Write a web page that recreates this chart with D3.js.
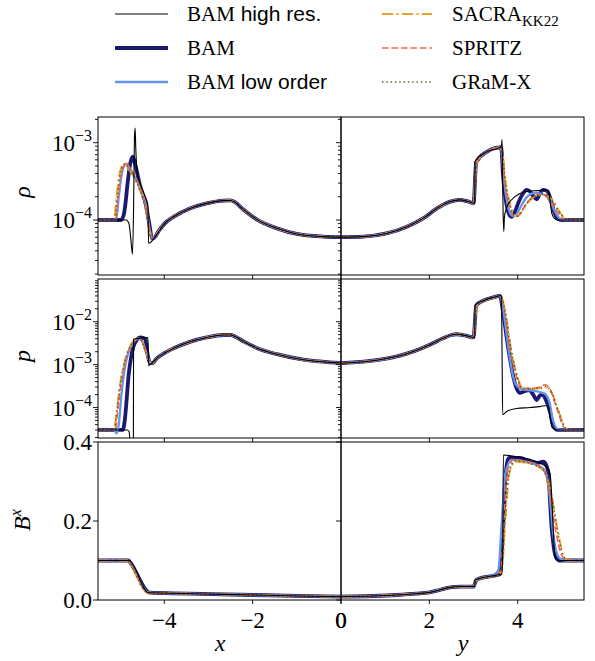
<!DOCTYPE html>
<html>
<head>
<meta charset="utf-8">
<script src="https://cdn.jsdelivr.net/npm/d3@7"></script>
<style>
  body { margin: 0; background: #fff; }
  svg text { font-family: "Liberation Serif", serif; fill: #000; }
</style>
</head>
<body>
<div id="chart"></div>
<script>
// ---- data: [coordinate, value] ----

// rho, left half (x)
var rhoL_tail = [[-4.25,5.8e-5],[-4.10,7.6e-5],[-3.95,9.5e-5],[-3.79,1.10e-4],[-3.42,1.41e-4],[-3.04,1.64e-4],[-2.66,1.78e-4],[-2.50,1.79e-4],[-2.40,1.70e-4],[-2.21,1.37e-4],[-1.91,1.02e-4],[-1.45,7.8e-5],[-1.00,6.6e-5],[-0.40,6.1e-5],[0,6.0e-5]];
var rhoL_hires = [[-5.5,1.0e-4],[-4.86,1.0e-4],[-4.80,9.0e-5],[-4.755,5.5e-5],[-4.72,3.6e-5],[-4.695,1.4e-4],[-4.675,1.2e-3],[-4.66,1.55e-3],[-4.645,8.5e-4],[-4.615,4.2e-4],[-4.55,3.0e-4],[-4.43,2.0e-4],[-4.37,1.55e-4],[-4.355,5.0e-5],[-4.30,5.2e-5],[-4.25,5.6e-5],[-4.02,8.6e-5]];
var rhoL_bam = [[-5.5,1.0e-4],[-4.98,1.0e-4],[-4.92,1.15e-4],[-4.88,1.6e-4],[-4.83,3.0e-4],[-4.77,5.4e-4],[-4.71,6.6e-4],[-4.66,5.3e-4],[-4.55,2.8e-4],[-4.42,1.6e-4],[-4.34,9.0e-5],[-4.28,5.9e-5]];
var rhoL_low = [[-5.5,1.0e-4],[-5.09,1.0e-4],[-5.03,2.0e-4],[-4.96,4.0e-4],[-4.87,5.3e-4],[-4.80,4.8e-4],[-4.70,3.9e-4],[-4.55,2.6e-4],[-4.41,1.5e-4],[-4.33,7.5e-5],[-4.28,5.9e-5]];
var rhoL_sacra = [[-5.5,1.0e-4],[-5.14,1.0e-4],[-5.08,2.1e-4],[-5.00,4.3e-4],[-4.91,5.3e-4],[-4.82,4.6e-4],[-4.70,3.7e-4],[-4.56,2.5e-4],[-4.42,1.45e-4],[-4.33,7.0e-5],[-4.27,5.9e-5]];
var rhoL_spritz = [[-5.5,1.0e-4],[-5.10,1.0e-4],[-5.04,2.0e-4],[-4.97,4.1e-4],[-4.86,5.4e-4],[-4.78,4.7e-4],[-4.70,3.9e-4],[-4.55,2.6e-4],[-4.41,1.45e-4],[-4.33,7.2e-5],[-4.27,5.9e-5]];
var rhoL_gramx = [[-5.5,1.0e-4],[-5.12,1.0e-4],[-5.06,2.1e-4],[-4.99,4.2e-4],[-4.89,5.3e-4],[-4.81,4.7e-4],[-4.70,3.8e-4],[-4.56,2.5e-4],[-4.42,1.45e-4],[-4.33,7.0e-5],[-4.27,5.9e-5]];

// rho, right half (y)
var rhoR_rise = [[0,6.0e-5],[0.50,6.1e-5],[1.03,6.7e-5],[1.49,8.2e-5],[1.86,1.05e-4],[2.17,1.41e-4],[2.47,1.73e-4],[2.69,1.82e-4],[2.85,1.75e-4],[3.00,1.65e-4]];
var rhoR_hires = [[3.025,1.66e-4],[3.035,5.7e-4],[3.30,7.6e-4],[3.60,8.7e-4],[3.635,9.5e-4],[3.645,1.1e-3],[3.655,4.0e-4],[3.67,1.2e-4],[3.685,7.1e-5],[3.70,1.1e-4],[3.75,1.45e-4],[3.85,1.8e-4],[4.05,2.2e-4],[4.28,2.37e-4],[4.45,2.4e-4],[4.60,2.45e-4],[4.69,2.4e-4],[4.735,1.7e-4],[4.77,1.23e-4],[4.83,1.05e-4],[4.90,1.0e-4],[5.5,1.0e-4]];
var rhoR_bam = [[3.00,1.65e-4],[3.06,5.6e-4],[3.30,7.6e-4],[3.60,8.7e-4],[3.63,8.2e-4],[3.67,3.6e-4],[3.73,1.8e-4],[3.79,1.25e-4],[3.86,1.1e-4],[3.93,1.25e-4],[4.01,1.65e-4],[4.12,2.2e-4],[4.20,2.45e-4],[4.29,2.3e-4],[4.36,2.0e-4],[4.43,1.85e-4],[4.50,2.2e-4],[4.58,2.45e-4],[4.67,2.35e-4],[4.74,1.9e-4],[4.81,1.35e-4],[4.90,1.05e-4],[5.0,1.0e-4],[5.5,1.0e-4]];
var rhoR_low = [[3.00,1.65e-4],[3.06,5.6e-4],[3.30,7.6e-4],[3.60,8.7e-4],[3.63,8.0e-4],[3.69,3.2e-4],[3.77,1.6e-4],[3.86,1.15e-4],[3.93,1.13e-4],[4.03,1.35e-4],[4.15,1.8e-4],[4.28,2.15e-4],[4.40,2.25e-4],[4.52,2.2e-4],[4.64,2.05e-4],[4.75,1.65e-4],[4.87,1.2e-4],[4.98,1.02e-4],[5.08,1.0e-4],[5.5,1.0e-4]];
var rhoR_sacra = [[3.00,1.64e-4],[3.07,5.5e-4],[3.30,7.5e-4],[3.60,8.6e-4],[3.64,8.0e-4],[3.73,3.1e-4],[3.83,1.6e-4],[3.93,1.15e-4],[4.00,1.12e-4],[4.10,1.3e-4],[4.22,1.65e-4],[4.35,1.95e-4],[4.47,2.1e-4],[4.59,2.15e-4],[4.71,2.0e-4],[4.83,1.65e-4],[4.96,1.25e-4],[5.07,1.05e-4],[5.17,1.0e-4],[5.5,1.0e-4]];
var rhoR_spritz = [[3.00,1.65e-4],[3.06,5.6e-4],[3.30,7.6e-4],[3.60,8.7e-4],[3.63,8.1e-4],[3.71,3.0e-4],[3.80,1.6e-4],[3.90,1.15e-4],[3.97,1.1e-4],[4.08,1.3e-4],[4.20,1.65e-4],[4.32,1.95e-4],[4.43,2.1e-4],[4.55,2.15e-4],[4.66,2.0e-4],[4.78,1.65e-4],[4.91,1.25e-4],[5.02,1.05e-4],[5.12,1.0e-4],[5.5,1.0e-4]];
var rhoR_gramx = [[3.00,1.64e-4],[3.07,5.5e-4],[3.30,7.5e-4],[3.60,8.6e-4],[3.64,8.0e-4],[3.72,3.1e-4],[3.82,1.6e-4],[3.92,1.15e-4],[3.99,1.12e-4],[4.09,1.3e-4],[4.21,1.65e-4],[4.34,1.95e-4],[4.46,2.1e-4],[4.58,2.15e-4],[4.70,2.0e-4],[4.82,1.65e-4],[4.95,1.25e-4],[5.06,1.05e-4],[5.16,1.0e-4],[5.5,1.0e-4]];

// p, left half
var pL_tail = [[-4.28,1.07e-3],[-4.17,1.4e-3],[-4.00,1.85e-3],[-3.79,2.4e-3],[-3.42,3.4e-3],[-3.04,4.3e-3],[-2.66,4.9e-3],[-2.50,4.9e-3],[-2.40,4.5e-3],[-2.21,3.5e-3],[-1.91,2.45e-3],[-1.45,1.75e-3],[-0.85,1.3e-3],[-0.25,1.13e-3],[0,1.1e-3]];
var pL_hires = [[-5.5,3.0e-5],[-4.84,3.0e-5],[-4.80,2.8e-5],[-4.775,1.5e-5],[-4.76,5e-6],[-4.70,5e-6],[-4.695,3.9e-3],[-4.55,4.1e-3],[-4.37,4.3e-3],[-4.355,9.5e-4],[-4.30,1.05e-3],[-4.20,1.3e-3]];
var pL_bam = [[-5.5,3.0e-5],[-4.94,3.0e-5],[-4.89,5.5e-5],[-4.85,1.6e-4],[-4.81,5.3e-4],[-4.76,1.3e-3],[-4.70,2.6e-3],[-4.62,3.8e-3],[-4.55,4.3e-3],[-4.48,4.2e-3],[-4.43,3.9e-3],[-4.38,1.8e-3],[-4.34,1.2e-3],[-4.29,1.07e-3]];
var pL_low = [[-5.5,3.0e-5],[-5.13,3.0e-5],[-5.08,2.5e-5],[-5.03,4.0e-5],[-4.97,2.0e-4],[-4.90,7.5e-4],[-4.82,1.8e-3],[-4.70,3.3e-3],[-4.58,4.1e-3],[-4.50,3.5e-3],[-4.43,2.2e-3],[-4.35,1.3e-3],[-4.29,1.08e-3]];
var pL_sacra = [[-5.5,3.0e-5],[-5.14,3.0e-5],[-5.08,8.0e-5],[-5.00,3.5e-4],[-4.90,1.2e-3],[-4.76,2.9e-3],[-4.62,3.9e-3],[-4.55,3.9e-3],[-4.47,2.8e-3],[-4.40,1.7e-3],[-4.33,1.15e-3],[-4.28,1.07e-3]];
var pL_spritz = [[-5.5,3.0e-5],[-5.11,3.0e-5],[-5.05,9.0e-5],[-4.97,4.0e-4],[-4.86,1.4e-3],[-4.72,3.2e-3],[-4.60,4.0e-3],[-4.53,3.9e-3],[-4.46,2.7e-3],[-4.40,1.7e-3],[-4.33,1.15e-3],[-4.28,1.07e-3]];
var pL_gramx = [[-5.5,3.0e-5],[-5.13,3.0e-5],[-5.07,8.5e-5],[-4.99,3.8e-4],[-4.88,1.3e-3],[-4.74,3.0e-3],[-4.61,3.9e-3],[-4.54,3.9e-3],[-4.47,2.8e-3],[-4.40,1.7e-3],[-4.33,1.15e-3],[-4.28,1.07e-3]];

// p, right half
var pR_rise = [[0,1.08e-3],[0.88,1.3e-3],[1.20,1.5e-3],[1.49,1.8e-3],[1.80,2.35e-3],[2.01,2.9e-3],[2.31,4.1e-3],[2.50,4.9e-3],[2.62,5.1e-3],[2.80,4.8e-3],[3.00,4.3e-3]];
var pR_hires = [[3.025,4.3e-3],[3.035,2.45e-2],[3.22,3.1e-2],[3.45,3.7e-2],[3.63,4.1e-2],[3.645,2.0e-3],[3.66,6.8e-5],[3.75,8.1e-5],[3.97,9.5e-5],[4.28,1.0e-4],[4.50,1.05e-4],[4.66,1.12e-4],[4.70,1.0e-4],[4.74,5.0e-5],[4.78,3.4e-5],[4.88,3.0e-5],[5.5,3.0e-5]];
var pR_bam = [[3.00,4.3e-3],[3.06,2.4e-2],[3.22,3.1e-2],[3.45,3.7e-2],[3.60,4.0e-2],[3.67,1.6e-2],[3.73,6.0e-3],[3.78,2.6e-3],[3.84,1.1e-3],[3.90,5.2e-4],[3.97,2.9e-4],[4.05,2.2e-4],[4.15,2.4e-4],[4.26,2.55e-4],[4.35,2.0e-4],[4.43,1.5e-4],[4.50,1.9e-4],[4.56,2.0e-4],[4.65,1.4e-4],[4.73,8.0e-5],[4.80,4.0e-5],[4.90,3.0e-5],[5.5,3.0e-5]];
var pR_low = [[3.00,4.3e-3],[3.06,2.4e-2],[3.22,3.1e-2],[3.45,3.7e-2],[3.60,4.0e-2],[3.69,1.4e-2],[3.80,2.0e-3],[3.90,5.0e-4],[3.97,3.3e-4],[4.10,2.65e-4],[4.30,2.5e-4],[4.50,2.3e-4],[4.64,2.0e-4],[4.72,1.3e-4],[4.80,5.0e-5],[4.92,3.1e-5],[5.5,3.0e-5]];
var pR_sacra = [[3.00,4.2e-3],[3.07,2.3e-2],[3.22,3.0e-2],[3.45,3.6e-2],[3.62,3.9e-2],[3.73,1.5e-2],[3.85,2.4e-3],[4.00,5.0e-4],[4.12,2.8e-4],[4.30,2.7e-4],[4.50,2.8e-4],[4.64,2.9e-4],[4.72,2.6e-4],[4.80,1.9e-4],[4.88,1.1e-4],[4.96,6.5e-5],[5.07,3.4e-5],[5.15,3.0e-5],[5.5,3.0e-5]];
var pR_spritz = [[3.00,4.3e-3],[3.06,2.4e-2],[3.22,3.1e-2],[3.45,3.7e-2],[3.61,4.0e-2],[3.71,1.6e-2],[3.82,2.6e-3],[3.97,5.2e-4],[4.09,2.8e-4],[4.30,2.8e-4],[4.50,3.0e-4],[4.62,3.4e-4],[4.70,3.0e-4],[4.77,2.2e-4],[4.85,1.2e-4],[4.92,7.5e-5],[5.03,3.6e-5],[5.11,3.0e-5],[5.5,3.0e-5]];
var pR_gramx = [[3.00,4.3e-3],[3.07,2.35e-2],[3.22,3.05e-2],[3.45,3.65e-2],[3.62,3.95e-2],[3.72,1.55e-2],[3.84,2.5e-3],[3.99,5.1e-4],[4.11,2.8e-4],[4.30,2.75e-4],[4.50,2.9e-4],[4.63,3.1e-4],[4.71,2.8e-4],[4.79,2.0e-4],[4.87,1.15e-4],[4.95,7.0e-5],[5.06,3.5e-5],[5.14,3.0e-5],[5.5,3.0e-5]];

// B^x, left half
var bxL_tail = [[-4.30,0.0185],[-3.80,0.0170],[-3.00,0.0150],[-1.98,0.0127],[-1.00,0.0103],[0,0.0084]];
var bxL_hires = [[-5.5,0.100],[-4.79,0.100],[-4.76,0.097],[-4.35,0.0185]];
var bxL_bam = [[-5.5,0.100],[-4.81,0.100],[-4.77,0.095],[-4.34,0.019]];
var bxL_low = [[-5.5,0.100],[-4.82,0.100],[-4.77,0.094],[-4.36,0.019]];
var bxL_sacra = [[-5.5,0.100],[-4.85,0.100],[-4.80,0.094],[-4.38,0.019]];
var bxL_spritz = [[-5.5,0.100],[-4.83,0.100],[-4.78,0.094],[-4.37,0.019]];
var bxL_gramx = [[-5.5,0.100],[-4.84,0.100],[-4.79,0.094],[-4.38,0.019]];

// B^x, right half
var bxR_rise = [[0,0.0084],[1.26,0.0127],[1.70,0.0160],[2.01,0.0194],[2.25,0.026],[2.47,0.032],[2.70,0.034],[3.00,0.034]];
var bxR_hires = [[3.025,0.034],[3.035,0.050],[3.10,0.053],[3.52,0.063],[3.64,0.066],[3.66,0.12],[3.675,0.367],[4.00,0.362],[4.28,0.356],[4.50,0.347],[4.69,0.333],[4.735,0.318],[4.85,0.106],[4.90,0.100],[5.5,0.100]];
var bxR_bam = [[3.00,0.034],[3.06,0.050],[3.10,0.053],[3.52,0.063],[3.60,0.066],[3.66,0.16],[3.72,0.31],[3.80,0.360],[4.05,0.360],[4.28,0.350],[4.43,0.347],[4.58,0.350],[4.68,0.330],[4.77,0.18],[4.86,0.11],[4.95,0.100],[5.5,0.100]];
var bxR_low = [[3.00,0.034],[3.06,0.050],[3.10,0.053],[3.45,0.063],[3.56,0.075],[3.64,0.20],[3.72,0.32],[3.86,0.355],[4.28,0.348],[4.58,0.332],[4.70,0.29],[4.80,0.17],[4.93,0.108],[5.05,0.100],[5.5,0.100]];
var bxR_sacra = [[3.00,0.034],[3.07,0.049],[3.12,0.053],[3.54,0.063],[3.64,0.072],[3.72,0.20],[3.81,0.32],[3.95,0.350],[4.28,0.345],[4.60,0.326],[4.76,0.27],[4.90,0.18],[5.03,0.115],[5.15,0.100],[5.5,0.100]];
var bxR_spritz = [[3.00,0.034],[3.06,0.050],[3.10,0.053],[3.52,0.063],[3.62,0.075],[3.69,0.21],[3.78,0.33],[3.90,0.355],[4.28,0.348],[4.58,0.330],[4.73,0.265],[4.86,0.175],[4.99,0.114],[5.11,0.100],[5.5,0.100]];
var bxR_gramx = [[3.00,0.034],[3.07,0.049],[3.12,0.053],[3.53,0.063],[3.63,0.073],[3.71,0.20],[3.80,0.32],[3.93,0.352],[4.28,0.346],[4.59,0.328],[4.75,0.27],[4.89,0.18],[5.02,0.115],[5.14,0.100],[5.5,0.100]];

// tick values
var xTicksLeft = [-4, -2, 0];
var xTicksRight = [0, 2, 4];
var rhoTicks = [1e-3, 1e-4];
var pTicks = [1e-2, 1e-3, 1e-4];
var bxTicks = [0, 0.2, 0.4];

// ---- helpers to glue a shared smooth part onto each series ----
function withTail(head, tail) {
    var last = head[head.length - 1][0];
    return head.concat(tail.filter(function(d) { return d[0] > last; }));
}
function withRise(rise, rest) {
    var first = rest[0][0];
    return rise.filter(function(d) { return d[0] < first; }).concat(rest);
}

// series styles, drawn in this order (high res on top)
var series = [
    { key: "bam",    color: "#191970", width: 3.8, dash: null },
    { key: "low",    color: "#6495ED", width: 2.3, dash: null },
    { key: "sacra",  color: "#E9A325", width: 1.8, dash: "11,3.5,2,3.5" },
    { key: "spritz", color: "#FF6347", width: 1.6, dash: "6.5,3" },
    { key: "gramx",  color: "#556B2F", width: 1.6, dash: "1.5,2.8" },
    { key: "hires",  color: "#000000", width: 1.1, dash: null }
];
var styleOf = {};
series.forEach(function(s) { styleOf[s.key] = s; });

var dataL = {
    rho: { hires: withTail(rhoL_hires, rhoL_tail), bam: withTail(rhoL_bam, rhoL_tail), low: withTail(rhoL_low, rhoL_tail),
           sacra: withTail(rhoL_sacra, rhoL_tail), spritz: withTail(rhoL_spritz, rhoL_tail), gramx: withTail(rhoL_gramx, rhoL_tail) },
    p:   { hires: withTail(pL_hires, pL_tail), bam: withTail(pL_bam, pL_tail), low: withTail(pL_low, pL_tail),
           sacra: withTail(pL_sacra, pL_tail), spritz: withTail(pL_spritz, pL_tail), gramx: withTail(pL_gramx, pL_tail) },
    bx:  { hires: withTail(bxL_hires, bxL_tail), bam: withTail(bxL_bam, bxL_tail), low: withTail(bxL_low, bxL_tail),
           sacra: withTail(bxL_sacra, bxL_tail), spritz: withTail(bxL_spritz, bxL_tail), gramx: withTail(bxL_gramx, bxL_tail) }
};
var dataR = {
    rho: { hires: withRise(rhoR_rise, rhoR_hires), bam: withRise(rhoR_rise, rhoR_bam), low: withRise(rhoR_rise, rhoR_low),
           sacra: withRise(rhoR_rise, rhoR_sacra), spritz: withRise(rhoR_rise, rhoR_spritz), gramx: withRise(rhoR_rise, rhoR_gramx) },
    p:   { hires: withRise(pR_rise, pR_hires), bam: withRise(pR_rise, pR_bam), low: withRise(pR_rise, pR_low),
           sacra: withRise(pR_rise, pR_sacra), spritz: withRise(pR_rise, pR_spritz), gramx: withRise(pR_rise, pR_gramx) },
    bx:  { hires: withRise(bxR_rise, bxR_hires), bam: withRise(bxR_rise, bxR_bam), low: withRise(bxR_rise, bxR_low),
           sacra: withRise(bxR_rise, bxR_sacra), spritz: withRise(bxR_rise, bxR_spritz), gramx: withRise(bxR_rise, bxR_gramx) }
};

// ---- layout ----
var W = 595, H = 661;
var SERIF = "'Liberation Serif', serif", SANS = "'Liberation Sans', sans-serif";
var svg = d3.select("#chart").append("svg").attr("width", W).attr("height", H);
svg.append("rect").attr("width", W).attr("height", H).attr("fill", "#fff");

var xL = d3.scaleLinear().domain([-5.5, 0]).range([98, 341]);
var xR = d3.scaleLinear().domain([0, 5.5]).range([341, 584]);

var panels = [
    { key: "rho", top: 117, bottom: 275, log: true, domain: [1.945e-5, 2.148e-3], ticks: rhoTicks, exps: ["−3", "−4"] },
    { key: "p",   top: 279, bottom: 438, log: true, domain: [1.95e-5, 0.099],   ticks: pTicks,   exps: ["−2", "−3", "−4"] },
    { key: "bx",  top: 442, bottom: 600, log: false, domain: [0, 0.4],          ticks: bxTicks }
];

var FS = 23;

panels.forEach(function(P, pi) {
    var y = (P.log ? d3.scaleLog() : d3.scaleLinear()).domain(P.domain).range([P.bottom, P.top]);

    [{ side: "L", x: xL, data: dataL[P.key], ticks: xTicksLeft },
     { side: "R", x: xR, data: dataR[P.key], ticks: xTicksRight }].forEach(function(S) {
        var x0 = S.x.range()[0], x1 = S.x.range()[1];
        var cid = "clip-" + P.key + S.side;
        svg.append("clipPath").attr("id", cid).append("rect")
            .attr("x", x0).attr("y", P.top).attr("width", x1 - x0).attr("height", P.bottom - P.top);

        var g = svg.append("g").attr("clip-path", "url(#" + cid + ")");
        var line = d3.line()
            .x(function(d) { return S.x(d[0]); })
            .y(function(d) { return y(d[1]); })
            .curve(d3.curveMonotoneX);

        series.forEach(function(s) {
            g.append("path")
                .attr("d", line(S.data[s.key]))
                .attr("fill", "none")
                .attr("stroke", s.color)
                .attr("stroke-width", s.width)
                .attr("stroke-dasharray", s.dash)
                .attr("stroke-linejoin", "round");
        });

        // frame
        svg.append("rect").attr("x", x0).attr("y", P.top).attr("width", x1 - x0).attr("height", P.bottom - P.top)
            .attr("fill", "none").attr("stroke", "#000").attr("stroke-width", 1);

        // y ticks on the left spine, pointing out
        var yt = svg.append("g").attr("stroke", "#000").attr("stroke-width", 0.9);
        if (P.log) {
            var minors = [];
            for (var e = -6; e <= 0; e++) {
                for (var m = 2; m <= 9; m++) {
                    var v = m * Math.pow(10, e);
                    if (v > P.domain[0] && v < P.domain[1]) minors.push(v);
                }
            }
            minors.forEach(function(v) {
                yt.append("line").attr("x1", x0 - 3).attr("x2", x0).attr("y1", y(v)).attr("y2", y(v));
            });
        }
        P.ticks.forEach(function(v) {
            yt.append("line").attr("x1", x0 - 5).attr("x2", x0).attr("y1", y(v)).attr("y2", y(v));
        });

        // x ticks on the bottom spine, pointing out
        S.ticks.forEach(function(v) {
            yt.append("line").attr("x1", S.x(v)).attr("x2", S.x(v)).attr("y1", P.bottom).attr("y2", P.bottom + 4);
        });

        if (pi === panels.length - 1) {
            S.ticks.forEach(function(v) {
                svg.append("text").attr("x", S.x(v)).attr("y", P.bottom + 28)
                    .attr("text-anchor", "middle").attr("font-size", FS)
                    .text(v < 0 ? "−" + Math.abs(v) : String(v));
            });
        }
    });

    // y tick labels
    P.ticks.forEach(function(v, i) {
        var t = svg.append("text").attr("x", 92).attr("y", y(v) + 8).attr("text-anchor", "end").attr("font-size", FS);
        if (P.log) {
            t.append("tspan").text("10");
            t.append("tspan").attr("dy", -10).attr("font-size", 16).text(P.exps[i]);
        } else {
            t.text(v.toFixed(1));
        }
    });
});

// axis titles
function yTitle(cx, cy, main, sup) {
    var t = svg.append("text").attr("transform", "translate(" + cx + "," + cy + ") rotate(-90)")
        .attr("text-anchor", "middle").attr("font-size", 24).attr("font-style", "italic");
    t.append("tspan").text(main);
    if (sup) t.append("tspan").attr("dy", -9).attr("font-size", 16).text(sup);
}
yTitle(30, 192, "ρ");
yTitle(30, 356, "p");
yTitle(30, 520, "B", "x");

svg.append("text").attr("x", 220).attr("y", 651).attr("text-anchor", "middle")
    .attr("font-size", 24).attr("font-style", "italic").text("x");
svg.append("text").attr("x", 463).attr("y", 651).attr("text-anchor", "middle")
    .attr("font-size", 24).attr("font-style", "italic").text("y");

// ---- legend ----
var legendRows = [
    { key: "hires",  col: 0, row: 0, parts: [["BAM", "serif"], [" high res.", "sans"]] },
    { key: "bam",    col: 0, row: 1, parts: [["BAM", "serif"]] },
    { key: "low",    col: 0, row: 2, parts: [["BAM", "serif"], [" low order", "sans"]] },
    { key: "sacra",  col: 1, row: 0, parts: [["SACRA", "serif"], ["KK22", "sub"]] },
    { key: "spritz", col: 1, row: 1, parts: [["SPRITZ", "serif"]] },
    { key: "gramx",  col: 1, row: 2, parts: [["GRaM-X", "serif"]] }
];
var legCols = [{ x1: 115, x2: 168, tx: 187 }, { x1: 382, x2: 432, tx: 452 }];
var legRowsY = [14, 48, 82];

legendRows.forEach(function(L) {
    var s = styleOf[L.key], c = legCols[L.col], yy = legRowsY[L.row];
    svg.append("line").attr("x1", c.x1).attr("x2", c.x2).attr("y1", yy).attr("y2", yy)
        .attr("stroke", s.color).attr("stroke-width", s.width).attr("stroke-dasharray", s.dash);
    var t = svg.append("text").attr("x", c.tx).attr("y", yy + 7).attr("font-size", 21);
    L.parts.forEach(function(p) {
        var ts = t.append("tspan").text(p[0]).style("font-family", p[1] === "sans" ? SANS : SERIF);
        if (p[1] === "sub") ts.attr("font-size", 15).attr("dy", 5);
    });
});
</script>
</body>
</html>
